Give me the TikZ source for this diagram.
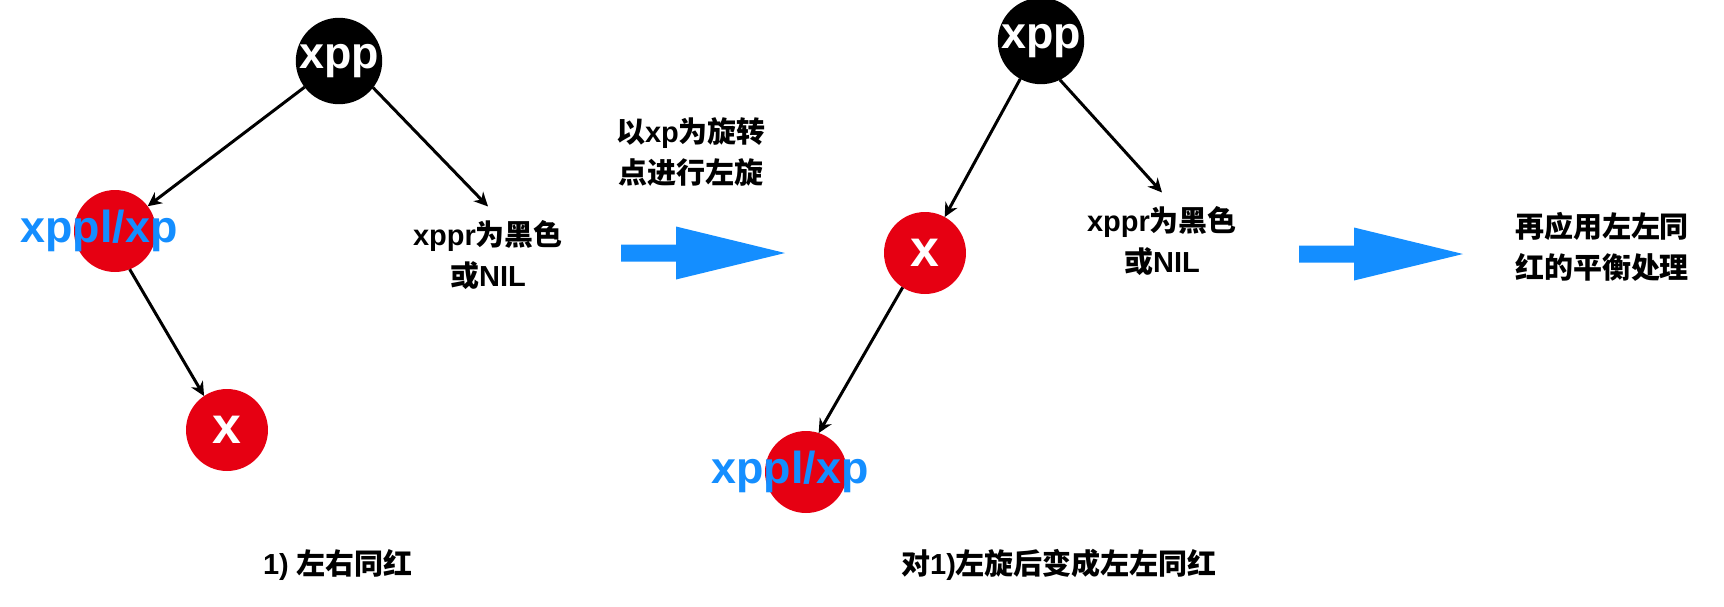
\documentclass[tikz,border=0pt]{standalone}
\usepackage{fontspec}
\setmainfont{Liberation Sans}
\newfontfamily\zhfont{Noto Sans CJK SC}
\newcommand{\zh}[1]{{\zhfont #1}}
\usetikzlibrary{arrows.meta, calc}
\definecolor{nodeRed}{RGB}{230,0,18}
\definecolor{inkBlue}{RGB}{20,142,255}

\begin{document}
\begin{tikzpicture}[
		x=0.02cm, y=-0.02cm,
		font=\bfseries,
		% Styles
		blackNode/.style={circle, fill=black, text=white, minimum size=1.64cm, inner sep=0pt, outer sep=0pt, font=\fontsize{25.5}{30}\selectfont\bfseries},
		redNode/.style={circle, fill=nodeRed, text=white, minimum size=1.64cm, inner sep=0pt, outer sep=0pt, font=\fontsize{29.5}{34}\selectfont\bfseries},
		blueLabel/.style={text=inkBlue, inner sep=0pt, font=\fontsize{25.5}{30}\selectfont\bfseries},
		noteText/.style={align=center, inner sep=2pt, outer sep=6pt, font=\fontsize{16.5}{23.2}\selectfont\bfseries},
		treeArrow/.style={-{Stealth[length=0.28cm, width=0.27cm, inset=0.09cm]}, line width=1.7pt},
		bigArrow/.pic={\fill[inkBlue] (0,-8.5) -- (55,-8.5) -- (55,-26.5) -- (164,0) -- (55,26.5) -- (55,8.5) -- (0,8.5) -- cycle;}
		]
		\useasboundingbox (0,0) rectangle (1724,606);
		
		% =========================================================
		% 1. LEFT TREE (left and right both red)
		% =========================================================
		\node[blackNode] (xpp1) at (339,61) {xpp};
		\node[redNode] (xp1) at (115,231) {};
		\node[blueLabel] (xp1text) at (99,231) {xppl/xp};
		\node[redNode] (x1) at (227,430) {x};
		\node[noteText] (xppr1) at (488,255) {xppr\zh{为黑色}\\\zh{或}NIL};
		\node[noteText] (case1) at (338,565) {1) \zh{左右同红}};
		
		\draw[treeArrow] (xpp1) -- (xp1);
		\draw[treeArrow] (xpp1.322) -- (xppr1.north);
		\draw[treeArrow] (xp1.291) -- (x1.124);
		
		% =========================================================
		% 2. LEFT ROTATION
		% =========================================================
		\node[noteText] (rotate) at (691,152) {\zh{以}xp\zh{为旋转}\\\zh{点进行左旋}};
		\pic at (621,253) {bigArrow};
		
		% =========================================================
		% 3. MIDDLE TREE (after rotation)
		% =========================================================
		\node[blackNode] (xpp2) at (1041,41) {xpp};
		\node[redNode] (x2) at (925,253) {x};
		\node[redNode] (xp2) at (806,472) {};
		\node[blueLabel] (xp2text) at (790,472) {xppl/xp};
		\node[noteText] (xppr2) at (1162,241) {xppr\zh{为黑色}\\\zh{或}NIL};
		\node[noteText] (case2) at (1059,565) {\zh{对}1)\zh{左旋后变成左左同红}};
		
		\draw[treeArrow] (xpp2) -- (x2);
		\draw[treeArrow] (xpp2.296) -- (xppr2.north);
		\draw[treeArrow] (x2.237) -- (xp2.72);
		
		% =========================================================
		% 4. NEXT STEP
		% =========================================================
		\pic at (1299,254) {bigArrow};
		\node[noteText] (balance) at (1602,247) {\zh{再应用左左同}\\\zh{红的平衡处理}};
		
	\end{tikzpicture}
\end{document}
